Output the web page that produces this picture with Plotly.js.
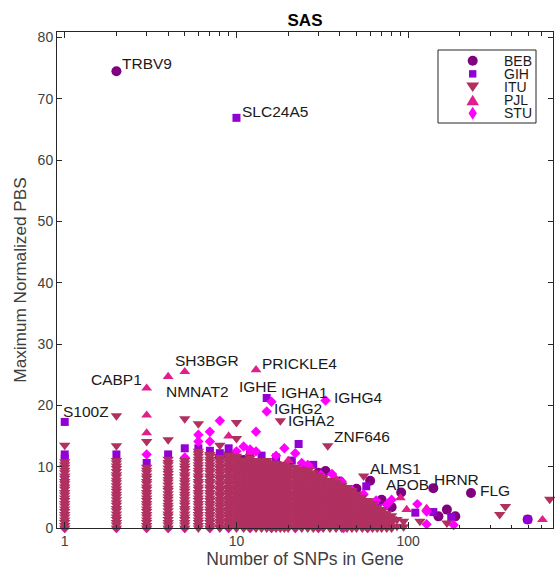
<!DOCTYPE html>
<html><head><meta charset="utf-8">
<script src="https://cdn.plot.ly/plotly-3.0.1.min.js"></script>
<style>html,body{margin:0;padding:0;background:#fff;}#chart{width:555px;height:569px;}</style>
</head><body><div id="chart"></div>
<script>
// ---------------- data ----------------
const seriesNames = ['BEB', 'GIH', 'ITU', 'PJL', 'STU'];

const bebX = [2, 8, 9, 11, 15, 20, 25, 30, 33, 40, 50, 60, 70, 80, 91, 140, 150, 168, 188, 232, 496];
const bebY = [74.5, 11.7, 12.0, 11.1, 10.6, 10.4, 9.6, 9.0, 9.3, 7.6, 6.4, 7.7, 4.6, 3.4, 5.8, 6.5, 1.9, 3.0, 1.9, 5.7, 1.4];

const gihX = [1, 10, 15, 23, 5, 6, 1, 1, 1, 2, 3, 4, 7, 8, 9, 12, 14, 17, 21, 28, 33, 49, 57, 66, 110, 140, 178, 496];
const gihY = [17.3, 66.9, 21.2, 13.7, 13.0, 13.0, 12.0, 11.3, 7.6, 12.0, 10.6, 12.0, 12.6, 12.2, 13.0, 12.0, 11.8, 11.5, 11.0, 10.3, 4.6, 5.2, 6.8, 3.3, 2.5, 2.6, 1.8, 1.4];

const pjlX = [3, 3, 3, 4, 5, 13, 9, 12, 20, 27, 38, 90, 98, 128, 605];
const pjlY = [22.8, 18.4, 15.5, 24.7, 25.5, 25.8, 15.0, 12.3, 11.0, 10.0, 8.0, 4.9, 3.0, 3.2, 1.35];

const stuX = [8, 6, 6, 7, 7, 13, 15, 16, 33, 11, 13, 19, 22, 26, 31, 41, 47, 80, 113, 128, 184, 3, 5, 10, 12, 17, 24, 36, 55, 65, 75, 128,
              1, 2, 3, 4, 5, 7, 9, 12, 16, 22, 30, 42, 58];
const stuY = [17.5, 15.2, 14.1, 15.7, 14.1, 15.7, 19.0, 20.6, 20.8, 13.3, 12.5, 13.0, 12.2, 10.3, 8.7, 7.6, 6.2, 4.6, 3.9, 2.7, 0.5, 12.0, 11.5, 12.5, 12.8, 11.8, 10.6, 8.8, 5.5, 4.5, 3.8, 0.6,
              0, 0, 0, 0, 0, 0, 0, 0, 0, 0, 0, 0, 0];

// ITU: PBS values grouped by number of SNPs in the gene
const ituColX = [1, 2, 3, 4, 5, 6, 7, 8, 9, 10, 11, 12, 13, 14, 15, 16, 17, 18, 19, 20,
                 22, 24, 26, 28, 30, 32, 34, 35, 38, 41, 44, 47, 50, 54, 55, 58, 62, 66, 70, 75, 80, 86, 94, 117, 168, 341, 368, 667];
const ituColY = [
  [0, 0.4, 0.9, 1.3, 1.8, 2.2, 2.7, 3.1, 3.6, 4.0, 4.5, 4.9, 5.4, 5.8, 6.3, 6.7, 7.2, 7.6, 8.1, 8.5, 9.0, 9.4, 9.9, 10.3, 10.8, 13.5],
  [0, 0.5, 0.9, 1.4, 1.8, 2.3, 2.8, 3.2, 3.7, 4.1, 4.6, 5.1, 5.5, 6.0, 6.4, 6.9, 7.4, 7.8, 8.3, 8.7, 9.2, 9.7, 10.1, 10.6, 11.0, 13.4, 18.3],
  [0, 0.4, 0.9, 1.3, 1.8, 2.2, 2.7, 3.1, 3.6, 4.0, 4.5, 4.9, 5.4, 5.8, 6.3, 6.7, 7.2, 7.6, 8.1, 8.5, 9.0, 9.4, 9.9, 14.1],
  [0, 0.5, 0.9, 1.4, 1.9, 2.3, 2.8, 3.3, 3.7, 4.2, 4.7, 5.1, 5.6, 6.1, 6.5, 7.0, 7.5, 7.9, 8.4, 8.9, 9.3, 9.8, 10.3, 10.7, 11.2, 14.4],
  [0, 0.5, 0.9, 1.4, 1.8, 2.3, 2.8, 3.2, 3.7, 4.1, 4.6, 5.1, 5.5, 6.0, 6.4, 6.9, 7.4, 7.8, 8.3, 8.7, 9.2, 9.7, 10.1, 10.6, 11.0, 17.8],
  [0, 0.4, 0.9, 1.3, 1.8, 2.2, 2.7, 3.1, 3.6, 4.0, 4.5, 4.9, 5.4, 5.8, 6.3, 6.7, 7.2, 7.6, 8.1, 8.5, 9.0, 9.4, 9.9, 10.3, 10.8, 11.2, 11.7, 12.1, 12.5, 17.0],
  [0, 0.4, 0.9, 1.3, 1.8, 2.2, 2.7, 3.1, 3.6, 4.0, 4.5, 4.9, 5.4, 5.8, 6.3, 6.7, 7.2, 7.6, 8.1, 8.5, 9.0, 9.4, 9.9, 10.3, 10.8, 11.2, 11.7, 12.0],
  [0, 0.2, 0.7, 1.1, 1.6, 2.0, 2.5, 2.9, 3.4, 3.8, 4.3, 4.7, 5.2, 5.6, 6.1, 6.5, 7.0, 7.4, 7.9, 8.3, 8.8, 9.2, 9.7, 10.1, 10.6, 11.0, 11.5, 13.5],
  [0, 0.4, 0.9, 1.3, 1.8, 2.2, 2.7, 3.1, 3.6, 4.0, 4.5, 4.9, 5.4, 5.8, 6.3, 6.7, 7.2, 7.6, 8.1, 8.5, 9.0, 9.4, 9.9, 10.3, 10.8, 11.2, 11.7, 11.9],
  [0, 0.2, 0.7, 1.1, 1.6, 2.0, 2.5, 2.9, 3.4, 3.8, 4.3, 4.7, 5.2, 5.6, 6.1, 6.5, 7.0, 7.4, 7.9, 8.3, 8.8, 9.2, 9.7, 10.1, 10.6, 11.0, 11.5, 11.7, 14.6, 17.2],
  [0, 0.4, 0.9, 1.3, 1.8, 2.2, 2.7, 3.1, 3.6, 4.0, 4.5, 4.9, 5.4, 5.8, 6.3, 6.7, 7.2, 7.6, 8.1, 8.5, 9.0, 9.4, 9.9, 10.3, 10.8, 11.1],
  [0, 0.2, 0.7, 1.1, 1.6, 2.0, 2.5, 2.9, 3.4, 3.8, 4.3, 4.7, 5.2, 5.6, 6.1, 6.5, 7.0, 7.4, 7.9, 8.3, 8.8, 9.2, 9.7, 10.1, 10.6, 11.0, 11.4],
  [0, 0.4, 0.9, 1.3, 1.8, 2.2, 2.7, 3.1, 3.6, 4.0, 4.5, 4.9, 5.4, 5.8, 6.3, 6.7, 7.2, 7.6, 8.1, 8.5, 9.0, 9.4, 9.9, 10.3, 10.8, 11.0],
  [0, 0.2, 0.7, 1.1, 1.6, 2.0, 2.5, 2.9, 3.4, 3.8, 4.3, 4.7, 5.2, 5.6, 6.1, 6.5, 7.0, 7.4, 7.9, 8.3, 8.8, 9.2, 9.7, 10.1, 10.6, 10.9],
  [0, 0.4, 0.9, 1.3, 1.8, 2.2, 2.7, 3.1, 3.6, 4.0, 4.5, 4.9, 5.4, 5.8, 6.3, 6.7, 7.2, 7.6, 8.1, 8.5, 9.0, 9.4, 9.9, 10.3, 10.8, 11.0],
  [0, 0.2, 0.7, 1.1, 1.6, 2.0, 2.5, 2.9, 3.4, 3.8, 4.3, 4.7, 5.2, 5.6, 6.1, 6.5, 7.0, 7.4, 7.9, 8.3, 8.8, 9.2, 9.7, 10.1, 10.6],
  [0, 0.4, 0.9, 1.3, 1.8, 2.2, 2.7, 3.1, 3.6, 4.0, 4.5, 4.9, 5.4, 5.8, 6.3, 6.7, 7.2, 7.6, 8.1, 8.5, 9.0, 9.4, 9.9, 10.3, 10.5],
  [0, 0.2, 0.7, 1.1, 1.6, 2.0, 2.5, 2.9, 3.4, 3.8, 4.3, 4.7, 5.2, 5.6, 6.1, 6.5, 7.0, 7.4, 7.9, 8.3, 8.8, 9.2, 9.7, 10.1, 10.4, 17.5],
  [0, 0.4, 0.9, 1.3, 1.8, 2.2, 2.7, 3.1, 3.6, 4.0, 4.5, 4.9, 5.4, 5.8, 6.3, 6.7, 7.2, 7.6, 8.1, 8.5, 9.0, 9.4, 9.9, 10.2],
  [0, 0.2, 0.7, 1.1, 1.6, 2.0, 2.5, 2.9, 3.4, 3.8, 4.3, 4.7, 5.2, 5.6, 6.1, 6.5, 7.0, 7.4, 7.9, 8.3, 8.8, 9.2, 9.7, 10.0],
  [0, 0.3, 0.9, 1.5, 2.1, 2.7, 3.3, 3.9, 4.5, 5.1, 5.7, 6.3, 6.9, 7.5, 8.1, 8.7, 9.3, 9.9],
  [0, 0.6, 1.2, 1.8, 2.4, 3.0, 3.6, 4.2, 4.8, 5.4, 6.0, 6.6, 7.2, 7.8, 8.4, 9.0, 9.6],
  [0, 0.3, 0.9, 1.5, 2.1, 2.7, 3.3, 3.9, 4.5, 5.1, 5.7, 6.3, 6.9, 7.5, 8.1, 8.7, 9.3, 9.4],
  [0, 0.6, 1.2, 1.8, 2.4, 3.0, 3.6, 4.2, 4.8, 5.4, 6.0, 6.6, 7.2, 7.8, 8.4, 9.0],
  [0, 0.3, 0.9, 1.5, 2.1, 2.7, 3.3, 3.9, 4.5, 5.1, 5.7, 6.3, 6.9, 7.5, 8.1, 8.6],
  [0, 0.6, 1.2, 1.8, 2.4, 3.0, 3.6, 4.2, 4.8, 5.4, 6.0, 6.6, 7.2, 7.8, 8.2],
  [13.4],
  [0, 0.3, 0.9, 1.5, 2.1, 2.7, 3.3, 3.9, 4.5, 5.1, 5.7, 6.3, 6.9, 7.5, 7.8],
  [0, 0.6, 1.2, 1.8, 2.4, 3.0, 3.6, 4.2, 4.8, 5.4, 6.0, 6.6, 7.2, 7.4],
  [0, 0.3, 0.9, 1.5, 2.1, 2.7, 3.3, 3.9, 4.5, 5.1, 5.7, 6.3, 6.9, 7.0],
  [0, 0.6, 1.2, 1.8, 2.4, 3.0, 3.6, 4.2, 4.8, 5.4, 6.0, 6.6],
  [0, 0.3, 0.9, 1.5, 2.1, 2.7, 3.3, 3.9, 4.5, 5.1, 5.7, 6.1],
  [0, 0.6, 1.2, 1.8, 2.4, 3.0, 3.6, 4.2, 4.8, 5.5],
  [0, 0.3, 0.9, 1.5, 2.1, 2.7, 3.3, 3.9, 4.5, 5.0],
  [8.5],
  [0, 0.6, 1.2, 1.8, 2.4, 3.0, 3.6, 4.2, 4.5],
  [0, 0.3, 0.9, 1.5, 2.1, 2.7, 3.3, 3.9, 4.0],
  [0, 0.6, 1.2, 1.8, 2.4, 3.0, 3.4],
  [0, 0.3, 0.9, 1.5, 2.1, 2.7, 3.0],
  [0, 0.6, 1.2, 1.8, 2.4],
  [0, 0.3, 0.9, 1.5, 2.0],
  [0.3, 1.4],
  [0.2, 1.1],
  [1.1],
  [0.8],
  [2.2],
  [3.5],
  [4.7]
];

// labelled genes: name, SNP count and PBS value of the labelled point
const geneLabels = ['TRBV9', 'SLC24A5', 'S100Z', 'CABP1', 'NMNAT2', 'SH3BGR', 'PRICKLE4', 'IGHE', 'IGHA1', 'IGHG2', 'IGHA2', 'IGHG4', 'ZNF646', 'ALMS1', 'APOB', 'HRNR', 'FLG'];
const geneX = [2, 10, 1, 3, 4, 5, 13, 15, 16, 15, 18, 33, 34, 55, 91, 140, 232];
const geneY = [74.5, 66.9, 17.3, 22.8, 24.7, 25.5, 25.8, 21.2, 20.6, 19.0, 17.5, 20.8, 13.4, 8.5, 5.8, 6.5, 5.7];

const xMajorTicks = [1, 10, 100];
const xMajorText = ['1', '10', '100'];
const xMinorTicks = [2, 3, 4, 5, 6, 7, 8, 9, 20, 30, 40, 50, 60, 70, 80, 90, 200, 300, 400, 500, 600];
const yTicks = [0, 10, 20, 30, 40, 50, 60, 70, 80];

// ---------------- styles ----------------
const colors = {BEB: '#800080', GIH: '#9400D3', ITU: '#B03060', PJL: '#E0208A', STU: '#FF00FF'};
const symbols = {BEB: 'circle', GIH: 'square', ITU: 'triangle-down', PJL: 'triangle-up', STU: 'diamond'};
const sizes = {BEB: 10, GIH: 8, ITU: 10, PJL: 9.5, STU: 8};
const FONT = 'Liberation Sans, Arial, Helvetica, sans-serif';

const ituX = ituColX.flatMap((x, i) => ituColY[i].map(() => x));
const ituY = ituColY.flat();

const seriesData = {
  BEB: [bebX, bebY], GIH: [gihX, gihY], ITU: [ituX, ituY], PJL: [pjlX, pjlY], STU: [stuX, stuY]
};
const drawOrder = ['BEB', 'GIH', 'PJL', 'STU', 'ITU'];

const traces = drawOrder.map(n => ({
  type: 'scatter', mode: 'markers', name: n,
  x: seriesData[n][0], y: seriesData[n][1],
  cliponaxis: false, showlegend: false, hoverinfo: 'x+y+name',
  marker: {symbol: symbols[n], size: sizes[n], color: colors[n], line: {width: 0}}
}));

// label offsets (pixels) relative to the labelled point
const labelStyle = {
  TRBV9: ['left', 5, -8.6], SLC24A5: ['left', 4.5, -6.5], S100Z: ['left', -3, -10.5],
  CABP1: ['right', -3.5, -9], NMNAT2: ['left', -3, 14], SH3BGR: ['left', -11, -12],
  PRICKLE4: ['left', 4.7, -7], IGHE: ['right', 11.6, -11.6], IGHA1: ['left', 8, -10],
  IGHG2: ['left', 6, -3.5], IGHA2: ['left', 7, -1], IGHG4: ['left', 7, -3],
  ZNF646: ['left', 5.7, -9.5], ALMS1: ['left', 5, -7.7], APOB: ['left', -15.7, -8.7],
  HRNR: ['left', 0, -9], FLG: ['left', 7.6, -2.7]
};

const annotations = geneLabels.map((g, i) => {
  const s = labelStyle[g];
  return {
    text: g, xref: 'x', yref: 'y', x: Math.log10(geneX[i]), y: geneY[i],
    xanchor: s[0], yanchor: 'middle', xshift: s[0] === 'left' ? s[1] - 1 : s[1] + 1, yshift: -s[2],
    height: 12, valign: 'middle',
    showarrow: false, font: {family: FONT, size: 15.5, color: '#1a1a1a'}
  };
});

// legend (boxed key, MATLAB style)
const L = {l: 57, t: 32, w: 496, h: 496};
const px2x = p => (p - L.l) / L.w;
const px2y = p => (L.t + L.h - p) / L.h;
const legendRowsPx = [60.7, 73.85, 87, 100.15, 113.3];
const shapes = [{
  type: 'rect', xref: 'paper', yref: 'paper', x0: px2x(438), x1: px2x(536), y0: px2y(123), y1: px2y(50),
  line: {color: '#262626', width: 1}, fillcolor: '#ffffff', layer: 'above'
}];
const keyPaths = {
  ITU: 'M-6.5,4.5 L6.5,4.5 L0,-5 Z',
  PJL: 'M-6.3,-5 L6.3,-5 L0,5.5 Z',
  STU: 'M0,6.5 L4.2,0 L0,-6.5 L-4.2,0 Z'
};
seriesNames.forEach((n, i) => {
  const base = {xref: 'paper', yref: 'paper', xsizemode: 'pixel', ysizemode: 'pixel',
    xanchor: px2x(472.7), yanchor: px2y(legendRowsPx[i]), fillcolor: colors[n], line: {width: 0}, layer: 'above'};
  if (n === 'BEB') shapes.push(Object.assign({type: 'circle', x0: -5, x1: 5, y0: -5, y1: 5}, base));
  else if (n === 'GIH') shapes.push(Object.assign({type: 'rect', x0: -3.7, x1: 3.7, y0: -3.7, y1: 3.7}, base));
  else shapes.push(Object.assign({type: 'path', path: keyPaths[n]}, base));
  annotations.push({
    text: n, xref: 'paper', yref: 'paper', x: px2x(502.7), y: px2y(legendRowsPx[i]),
    xanchor: 'left', yanchor: 'middle', xshift: -1, height: 12, valign: 'middle', showarrow: false,
    font: {family: FONT, size: 14, color: '#1a1a1a'}
  });
});

const axisCommon = {
  showline: true, linecolor: '#262626', linewidth: 1, mirror: 'allticks',
  ticks: 'inside', tickcolor: '#262626', tickwidth: 1,
  showgrid: false, zeroline: false, automargin: false,
  tickfont: {family: FONT, size: 14, color: '#404040'}
};

const layout = {
  width: 555, height: 569,
  margin: {l: L.l, r: 555 - L.l - L.w, t: L.t, b: 569 - L.t - L.h, pad: 0},
  paper_bgcolor: '#ffffff', plot_bgcolor: '#ffffff',
  font: {family: FONT, size: 14, color: '#404040'},
  showlegend: false,
  title: {text: '<b>SAS</b>', font: {family: FONT, size: 17, color: '#000000'},
          x: 0.5, xref: 'paper', xanchor: 'center', y: 1 - 20 / 569, yref: 'container', yanchor: 'middle'},
  xaxis: Object.assign({}, axisCommon, {
    type: 'log', range: [-0.045, 2.843],
    tickmode: 'array', tickvals: xMajorTicks, ticktext: xMajorText, ticklen: 6,
    minor: {tickmode: 'array', tickvals: xMinorTicks, ticks: 'inside', ticklen: 3.5, tickcolor: '#262626', tickwidth: 1, showgrid: false},
    title: {text: 'Number of SNPs in Gene', font: {family: FONT, size: 17.5, color: '#404040'}, standoff: 2}
  }),
  yaxis: Object.assign({}, axisCommon, {
    range: [0, 80.9], tickmode: 'array', tickvals: yTicks, ticklen: 5,
    title: {text: 'Maximum Normalized PBS', font: {family: FONT, size: 17.2, color: '#404040'}, standoff: 6}
  }),
  annotations: annotations,
  shapes: shapes
};

Plotly.newPlot('chart', traces, layout, {displayModeBar: false, staticPlot: true});
</script>
</body></html>
